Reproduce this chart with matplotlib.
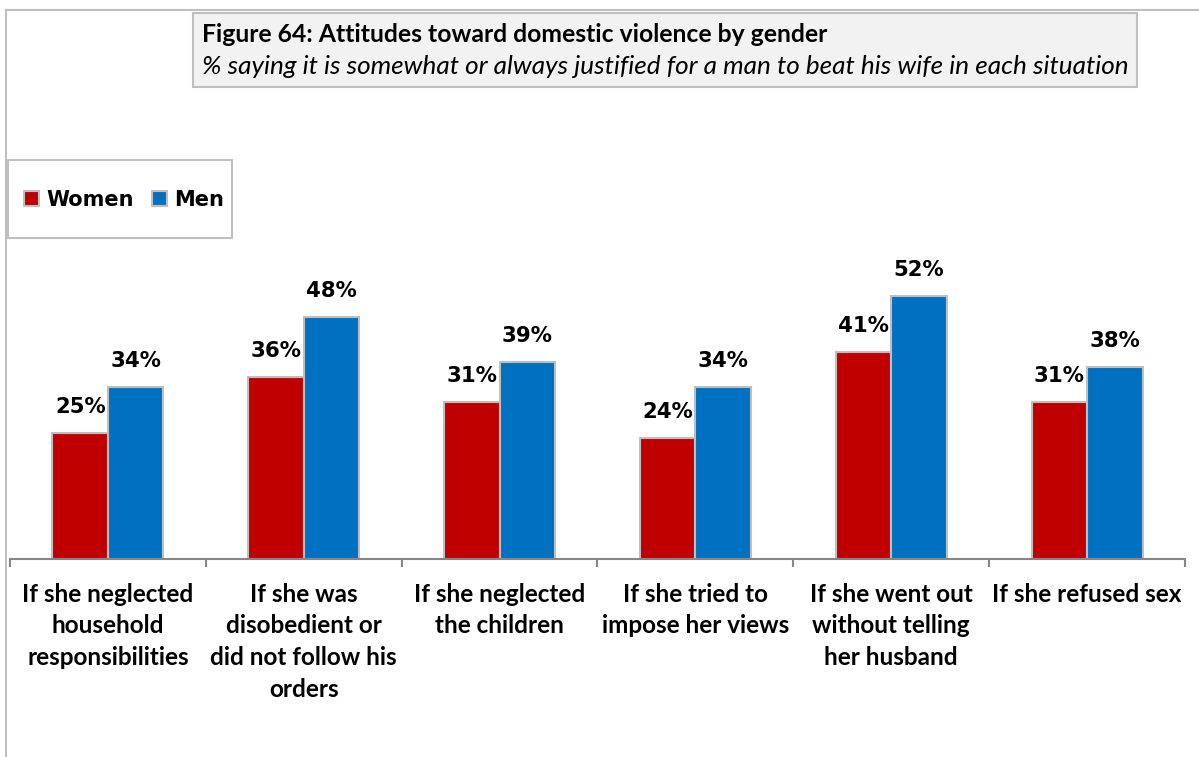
import matplotlib.pyplot as plt
from matplotlib.patches import Rectangle
from matplotlib.lines import Line2D
import numpy as np

plt.rcParams['font.family'] = ['Lato', 'DejaVu Sans']

# data
categories = ['If she neglected\nhousehold\nresponsibilities',
              'If she was\ndisobedient or\ndid not follow his\norders',
              'If she neglected\nthe children',
              'If she tried to\nimpose her views',
              'If she went out\nwithout telling\nher husband',
              'If she refused sex']
women = [25, 36, 31, 24, 41, 31]
men = [34, 48, 39, 34, 52, 38]
series_names = ['Women', 'Men']

red = '#c00000'
blue = '#0070c0'
edge = '#bfbfbf'

W, H = 1199, 757
fig = plt.figure(figsize=(W / 100, H / 100), dpi=100)

def fx(px):
    return px / W

def fy(py):
    return 1 - py / H

# outer border (top and left only)
fig.add_artist(Line2D([fx(6), 1], [fy(10), fy(10)], color=edge, lw=1.5))
fig.add_artist(Line2D([fx(6), fx(6)], [fy(10), 0], color=edge, lw=1.5))

# plot area
ax = fig.add_axes([fx(10), fy(559), fx(1185) - fx(10), fy(100) - fy(559)])
x = np.arange(len(categories))
bw = 0.283
b1 = ax.bar(x - bw / 2, women, bw, color=red, edgecolor=edge, linewidth=1.5, label=series_names[0])
b2 = ax.bar(x + bw / 2, men, bw, color=blue, edgecolor=edge, linewidth=1.5, label=series_names[1])

for bars, vals in [(b1, women), (b2, men)]:
    for rect, v in zip(bars, vals):
        ax.annotate('%d%%' % v, (rect.get_x() + rect.get_width() / 2, v),
                    xytext=(0, 14.4), textcoords='offset points',
                    ha='center', va='baseline', fontsize=15.3, fontweight='bold',
                    family='DejaVu Sans')

ax.set_xlim(-0.5, len(categories) - 0.5)
ax.set_ylim(0, 459 / 5.05)
for s in ['top', 'left', 'right']:
    ax.spines[s].set_visible(False)
ax.spines['bottom'].set_color('#868686')
ax.spines['bottom'].set_linewidth(1.5)
ax.set_yticks([])
ax.set_xticks(x)
ax.set_xticklabels(categories, fontsize=17.5, fontweight='bold', linespacing=1.46)
ax.set_xticks(np.arange(-0.5, len(categories)), minor=True)
ax.tick_params(axis='x', which='major', length=0, pad=17)
ax.tick_params(axis='x', which='minor', length=6, width=1.5, color='#868686', direction='out')

# legend
fig.add_artist(Rectangle((fx(8), fy(238)), fx(232) - fx(8), fy(160) - fy(238),
                         facecolor='white', edgecolor=edge, lw=1.5))
leg = fig.legend(handles=[b1, b2], loc='center', bbox_to_anchor=(fx(124), fy(200)),
                 ncol=2, frameon=False,
                 prop={'size': 15, 'weight': 'bold', 'family': 'DejaVu Sans'},
                 handlelength=0.72, handleheight=0.72, handletextpad=0.35, columnspacing=0.9)

# title box
fig.add_artist(Rectangle((fx(193), fy(87)), fx(1137) - fx(193), fy(13) - fy(87),
                         facecolor='#f2f2f2', edgecolor=edge, lw=1.5))
fig.text(fx(202), fy(42), 'Figure 64: Attitudes toward domestic violence by gender',
         fontsize=17.8, fontweight='bold', va='baseline')
fig.text(fx(202), fy(74), '% saying it is somewhat or always justified for a man to beat his wife in each situation',
         fontsize=18.8, style='italic', va='baseline')

plt.savefig('out.png', dpi=100)
